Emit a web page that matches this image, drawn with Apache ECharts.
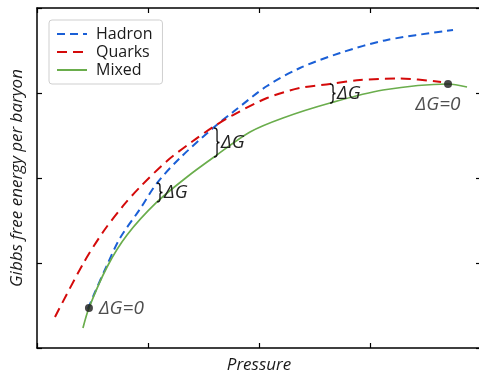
<!DOCTYPE html>
<html><head><meta charset="utf-8">
<script src="https://cdn.jsdelivr.net/npm/echarts@6/dist/echarts.min.js"></script>
<style>html,body{margin:0;padding:0;background:#fff}#c{width:479px;height:375px}</style>
</head><body><div id="c"></div>
<script>
// Data (x: pressure, y: Gibbs free energy per baryon, arbitrary units)
const hadron = [[0.459,0.459],[0.523,0.659],[0.631,0.976],[0.748,1.294],[0.928,1.635],[1.081,1.941],[1.288,2.235],[1.586,2.588],[1.766,2.776],[2.072,3.082],[2.369,3.294],[2.730,3.471],[3.153,3.624],[3.748,3.741]];
const quarks = [[0.162,0.365],[0.414,0.988],[0.595,1.365],[0.775,1.671],[0.928,1.894],[1.171,2.200],[1.405,2.435],[1.586,2.600],[1.766,2.741],[2.072,2.941],[2.369,3.059],[2.640,3.106],[2.910,3.153],[3.270,3.171],[3.640,3.129]];
const mixed = [[0.414,0.235],[0.468,0.471],[0.631,0.953],[0.811,1.329],[1.081,1.718],[1.351,2.012],[1.595,2.247],[1.919,2.541],[2.216,2.706],[2.640,2.882],[3.117,3.035],[3.703,3.106],[3.874,3.071]];
const equalPoints = [[0.468,0.471],[3.703,3.106]];
const equalLabels = ['ΔG=0','ΔG=0'];
const braces = [[1.081,1.941,1.718],[1.595,2.588,2.247],[2.640,3.106,2.882]];
const braceLabel = 'ΔG';
const legendNames = ['Hadron','Quarks','Mixed'];

const FONT = '"Open Sans", "Noto Sans", sans-serif';
const chart = echarts.init(document.getElementById('c'), null, {renderer:'canvas'});
const axisCommon = {
  type:'value', min:0, max:4, interval:1,
  axisLine:{show:true, onZero:false, lineStyle:{color:'#000', width:1.5}},
  axisTick:{show:true, inside:true, length:5, lineStyle:{color:'#000', width:1.2}},
  axisLabel:{show:false}, splitLine:{show:false}
};
const lineCommon = {type:'line', symbol:'none', smooth:0.3};
chart.setOption({
  animation:false,
  grid:{left:37, top:8, width:444, height:340, outerBoundsMode:'none', containLabel:false},
  legend:{
    data:legendNames, left:49, top:20, orient:'vertical',
    itemWidth:30, itemHeight:12, itemGap:2,
    padding:[6,10,6,7],
    borderColor:'#cfcfcf', borderWidth:1, borderRadius:3,
    itemStyle:{opacity:0},
    textStyle:{fontFamily:FONT, fontSize:16, color:'#1a1a1a', padding:[0,0,0,4]}
  },
  xAxis:[
    Object.assign({}, axisCommon, {position:'bottom', name:'Pressure', nameLocation:'middle', nameGap:9,
      nameTextStyle:{fontFamily:FONT, fontStyle:'italic', fontSize:17, color:'#1a1a1a'}}),
    Object.assign({}, axisCommon, {position:'top'})
  ],
  yAxis:[
    Object.assign({}, axisCommon, {position:'left', name:'Gibbs free energy per baryon', nameLocation:'middle', nameGap:11,
      nameTextStyle:{fontFamily:FONT, fontStyle:'italic', fontSize:17, color:'#1a1a1a'}}),
    Object.assign({}, axisCommon, {position:'right'})
  ],
  series:[
    Object.assign({name:'Hadron', data:hadron,
      lineStyle:{color:'#1a5fd6', width:2, type:[8,5]}, itemStyle:{color:'#1a5fd6'}}, lineCommon),
    Object.assign({name:'Quarks', data:quarks,
      lineStyle:{color:'#d40a0a', width:2, type:[10,6]}, itemStyle:{color:'#d40a0a'}}, lineCommon),
    Object.assign({name:'Mixed', data:mixed, z:3,
      lineStyle:{color:'#6aad4c', width:1.7}, itemStyle:{color:'#6aad4c'}}, lineCommon),
    {type:'scatter', data:equalPoints.map((p,i)=>({value:p, label:{
        show:true, formatter:equalLabels[i], position: i===0?'right':'bottom',
        offset: i===0?[1,1]:[-10,2]}})),
      symbolSize:8, itemStyle:{color:'#1a1a1a'}, z:5,
      label:{fontFamily:FONT, fontStyle:'italic', fontSize:19, color:'#222'}},
    {type:'custom', data:braces, z:6,
      renderItem:function(params, api){
        const top = api.coord([api.value(0), api.value(1)]);
        const bot = api.coord([api.value(0), api.value(2)]);
        const x = top[0], yt = top[1], yb = bot[1], ym = (yt+yb)/2;
        const p = 'M'+x+' '+yt+' Q'+(x+3)+' '+yt+' '+(x+3)+' '+(yt+3)+
          ' L'+(x+3)+' '+(ym-2)+' Q'+(x+3)+' '+ym+' '+(x+5.5)+' '+ym+
          ' Q'+(x+3)+' '+ym+' '+(x+3)+' '+(ym+2)+
          ' L'+(x+3)+' '+(yb-3)+' Q'+(x+3)+' '+yb+' '+x+' '+yb;
        return {type:'group', children:[
          {type:'path', shape:{pathData:p}, style:{fill:null, stroke:'#111', lineWidth:1.3}},
          {type:'text', x:x+7, y:ym, style:{text:braceLabel, fontFamily:FONT, fontStyle:'italic', fontSize:19, fill:'#222', verticalAlign:'middle'}}
        ]};
      }}
  ]
});
</script></body></html>
